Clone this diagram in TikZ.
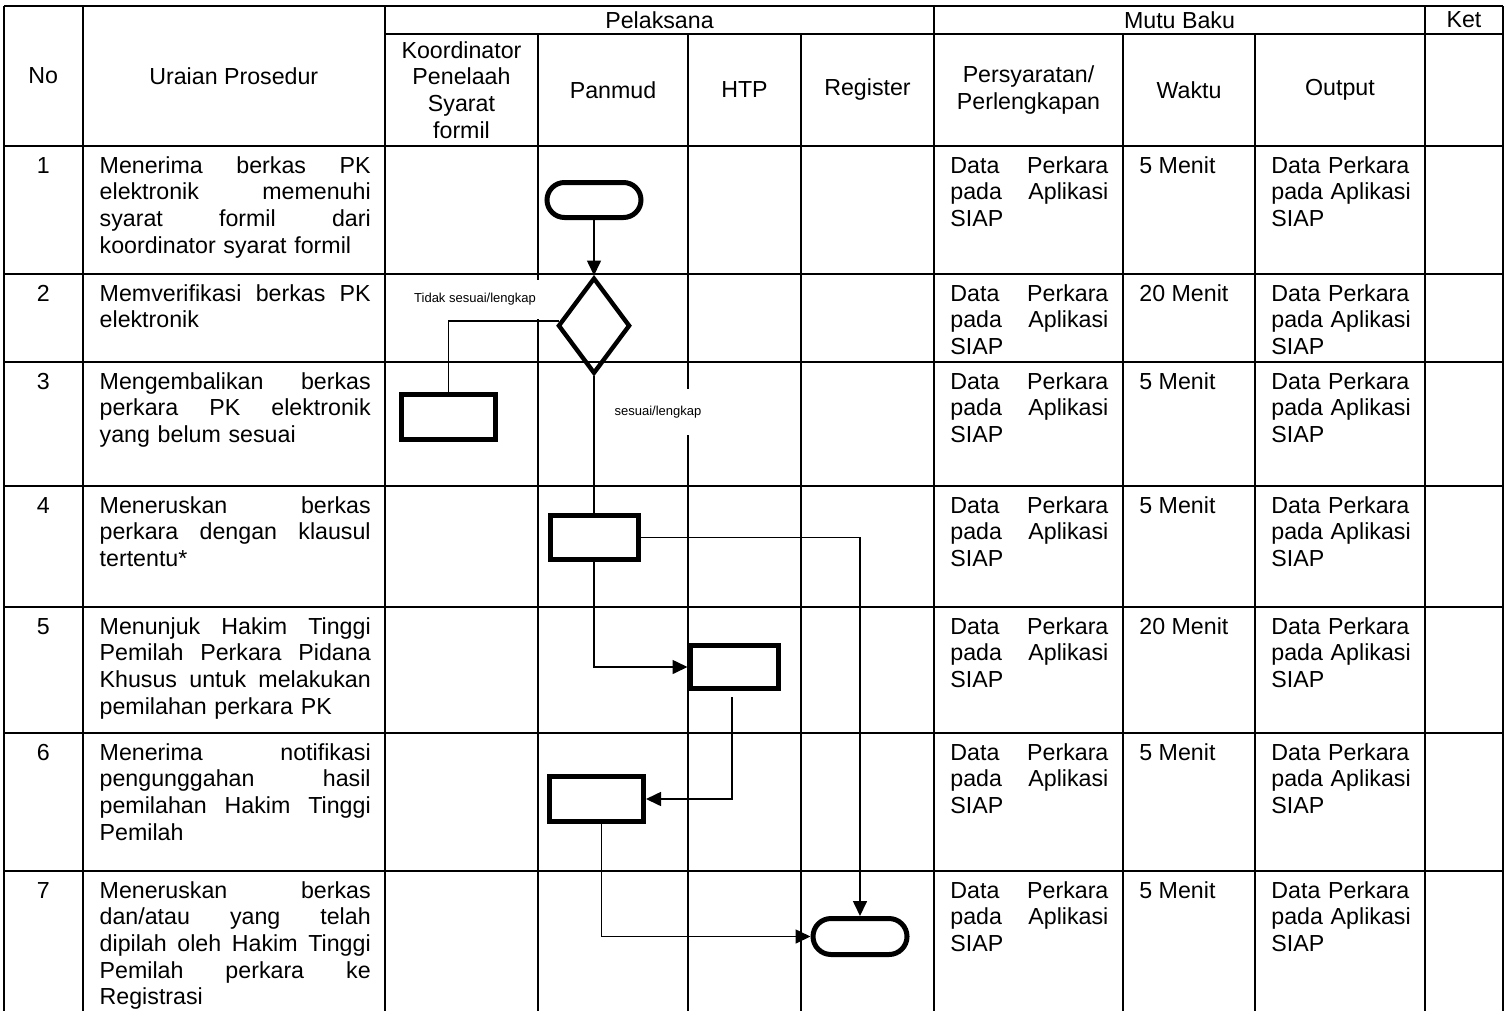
\documentclass[tikz,border=0pt]{standalone}
\usepackage{fontspec}
\setmainfont{Liberation Sans}
\usetikzlibrary{arrows.meta,shapes.geometric,shapes.misc}
% a line whose word spaces are stretched to the full cell width (justified line)
\newcommand\J[1]{\leavevmode\hbox to\linewidth{\spaceskip=\fontdimen2\font plus 1fil\relax#1}}
\begin{document}
\begin{tikzpicture}[x=0.5pt,y=-0.5pt,
  grid/.style={line width=1.1pt},
  txt/.style={font=\fontsize{11.6}{13.35}\selectfont, inner sep=0pt},
  cell/.style={txt, anchor=north west, align=left},
  head/.style={txt, align=center},
  procbox/.style={draw, rectangle, line width=2.5pt, inner sep=0pt},
  term/.style={draw, rounded rectangle, line width=2.5pt, inner sep=0pt},
  decision/.style={draw, diamond, line width=2.2pt, inner sep=0pt},
  flow/.style={line width=0.8pt},
  arr/.style={flow, -{Triangle[length=7.5pt,width=7pt]}},
  lbl/.style={fill=white, inner sep=0pt, font=\fontsize{6.5}{7.8}\selectfont}]

\fill[white] (0,0) rectangle (1508,1011);
\useasboundingbox (0,0) rectangle (1508,1011);

% ---- table grid ----
\draw[grid] (4,6) -- (1503,6);
\draw[grid] (385,34) -- (1503,34);
\foreach \y in {146,274,362,486,607,733,871}
  \draw[grid] (4,\y) -- (1503,\y);
\foreach \x in {4,82.7,385,934,1425,1503}
  \draw[grid] (\x,6) -- (\x,1011);
\foreach \x in {538,688,801,1123,1255}
  \draw[grid] (\x,34) -- (\x,1011);

% ---- header ----
\node[head] (hno) at (43.3,76) {No};
\node[head] (hur) at (233.8,76) {Uraian Prosedur};
\node[head] (hpel) at (659.5,20) {Pelaksana};
\node[head] (hmb) at (1179.5,20) {Mutu Baku};
\node[head] (hket) at (1464,20) {Ket};
\node[head] (hkoor) at (461.5,90) {Koordinator\\Penelaah\\Syarat\\formil};
\node[head] (hpan) at (613,90) {Panmud};
\node[head] (hhtp) at (744.5,90) {HTP};
\node[head] (hreg) at (867.5,90) {Register};
\node[head] (hper) at (1028.5,90) {Persyaratan/\\Perlengkapan};
\node[head] (hwak) at (1189,90) {Waktu};
\node[head] (hout) at (1340,90) {Output};

% ---- rows: number, requirement, time, output ----
\foreach \i/\y/\w in {1/146/5,2/274/20,3/362/5,4/486/5,5/607/20,6/733/5,7/871/5}{
  \node[txt, anchor=north] (n\i) at (43.3,\y+8) {\strut\i};
  \node[cell, text width=79pt] (p\i) at (950,\y+8)
    {\J{\strut Data Perkara}\\\J{pada Aplikasi}\\SIAP};
  \node[cell] (w\i) at (1139,\y+8) {\strut\w{} Menit};
  \node[cell, text width=72pt] (o\i) at (1271,\y+8)
    {\strut Data Perkara\\pada Aplikasi\\SIAP};
}

% ---- procedure descriptions ----
\node[cell, text width=135.5pt] (u1) at (99.3,154)
  {\J{\strut Menerima berkas PK}\\\J{elektronik memenuhi}\\\J{syarat formil dari}\\koordinator syarat formil};
\node[cell, text width=135.5pt] (u2) at (99.3,282)
  {\J{\strut Memverifikasi berkas PK}\\elektronik};
\node[cell, text width=135.5pt] (u3) at (99.3,370)
  {\J{\strut Mengembalikan berkas}\\\J{perkara PK elektronik}\\yang belum sesuai};
\node[cell, text width=135.5pt] (u4) at (99.3,494)
  {\J{\strut Meneruskan berkas}\\\J{perkara dengan klausul}\\tertentu*};
\node[cell, text width=135.5pt] (u5) at (99.3,615)
  {\J{\strut Menunjuk Hakim Tinggi}\\\J{Pemilah Perkara Pidana}\\\J{Khusus untuk melakukan}\\pemilahan perkara PK};
\node[cell, text width=135.5pt] (u6) at (99.3,741)
  {\J{\strut Menerima notifikasi}\\\J{pengunggahan hasil}\\\J{pemilahan Hakim Tinggi}\\Pemilah};
\node[cell, text width=135.5pt] (u7) at (99.3,879)
  {\J{\strut Meneruskan berkas}\\\J{dan/atau yang telah}\\\J{dipilah oleh Hakim Tinggi}\\\J{Pemilah perkara ke}\\Registrasi};

% ---- branch labels (white ground hides the grid behind them) ----
\node[lbl, minimum width=70pt, minimum height=19.5pt] (ltidak) at (475,299.5) {Tidak sesuai/lengkap};
\node[lbl, minimum width=48pt, minimum height=23pt] (lsesuai) at (658,412) {sesuai/lengkap};

% ---- flow symbols ----
\node[term, minimum width=47pt, minimum height=17.5pt] (t1) at (594,200) {};
\node[decision, minimum width=36pt, minimum height=48pt] (dia) at (594,325.7) {};
\node[procbox, minimum width=47pt, minimum height=22.5pt] (r3) at (448.5,417) {};
\node[procbox, minimum width=44pt, minimum height=22pt] (r4) at (594,537.5) {};
\node[procbox, minimum width=44pt, minimum height=21.5pt] (h5) at (734,667) {};
\node[procbox, minimum width=47pt, minimum height=22.5pt] (r6) at (596.5,799) {};
\node[term, minimum width=47pt, minimum height=18pt] (t7) at (860,936.5) {};

% ---- connectors ----
\draw[arr] (t1.south) -- (dia.north);
\draw[flow] ([xshift=1.75pt,yshift=2.35pt]dia.west) -| (r3.north);
\draw[flow] (dia.south) -- (r4.north);
\draw[arr] (r4.east) -| (t7.north);
\draw[arr] (r4.south) |- (h5.west);
\draw[arr] ([xshift=-1pt,yshift=-3pt]h5.south) |- (r6.east);
\draw[arr] ([xshift=2.5pt]r6.south) |- (t7.west);
\end{tikzpicture}
\end{document}
